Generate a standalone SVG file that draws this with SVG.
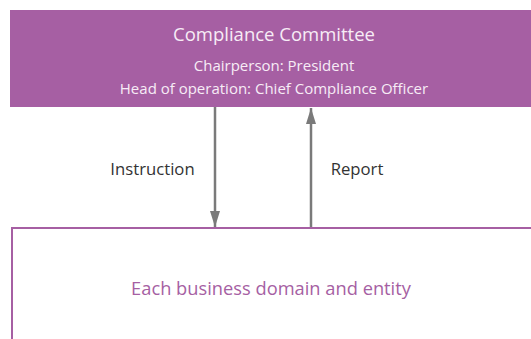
<svg xmlns="http://www.w3.org/2000/svg" width="531" height="339" viewBox="0 0 531 339">
<style>
text{font-family:"Open Sans","Noto Sans",sans-serif;text-anchor:middle}
.w{fill:#f7ecf6}
.lbl{fill:#333;font-size:16.7px}
.conn{stroke:#7a7a7a;stroke-width:2.5;fill:none}
</style>
<defs>
<marker id="ah" viewBox="0 0 16 10" refX="16" refY="5" markerWidth="6.4" markerHeight="4" markerUnits="strokeWidth" orient="auto">
<path d="M0,0 L16,5 L0,10 z" fill="#7a7a7a"/>
</marker>
</defs>
<rect width="531" height="339" fill="#fff"/>
<g id="committee">
<rect x="10" y="10" width="530" height="97" fill="#a65fa3"/>
<text class="w" x="274" y="41" font-size="18.5">Compliance Committee</text>
<text class="w" x="274" y="71" font-size="15">Chairperson: President</text>
<text class="w" x="274" y="94" font-size="15">Head of operation: Chief Compliance Officer</text>
</g>
<g id="entity">
<rect x="12" y="228" width="530" height="130" fill="#fff" stroke="#a65fa3" stroke-width="2"/>
<text x="271" y="295" font-size="18.3" fill="#a65fa3">Each business domain and entity</text>
</g>
<g id="connectors">
<line class="conn" x1="215" y1="107" x2="215" y2="227" marker-end="url(#ah)"/>
<line class="conn" x1="311" y1="227" x2="311" y2="108" marker-end="url(#ah)"/>
<text class="lbl" x="152.5" y="175">Instruction</text>
<text class="lbl" x="357" y="175">Report</text>
</g>
</svg>
